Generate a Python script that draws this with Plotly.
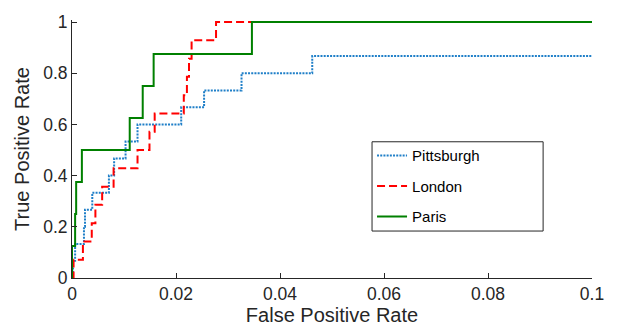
import plotly.graph_objects as go

# Pittsburgh ROC (step corners)
pit_fpr = [0, 0.0002, 0.0006, 0.0023, 0.0025, 0.0039, 0.0071, 0.0081, 0.0103, 0.0126, 0.0210, 0.0254, 0.0326, 0.0462, 0.1]
pit_tpr = [0, 0.067, 0.133, 0.2, 0.267, 0.333, 0.4, 0.467, 0.533, 0.6, 0.667, 0.733, 0.8, 0.867, 0.867]

# London ROC
lon_fpr = [0, 0.0003, 0.0021, 0.0038, 0.0045, 0.0058, 0.0080, 0.0126, 0.0149, 0.0159, 0.0215, 0.0221, 0.0225, 0.0230, 0.0277, 0.1]
lon_tpr = [0, 0.071, 0.143, 0.214, 0.286, 0.357, 0.429, 0.5, 0.571, 0.643, 0.714, 0.786, 0.857, 0.929, 1.0, 1.0]

# Paris ROC
par_fpr = [0, 0, 0.0006, 0.0008, 0.0019, 0.0111, 0.0136, 0.0157, 0.0346, 0.1]
par_tpr = [0, 0.125, 0.25, 0.375, 0.5, 0.625, 0.75, 0.875, 1.0, 1.0]

x_ticks = [0, 0.02, 0.04, 0.06, 0.08, 0.1]
x_labels = ["0", "0.02", "0.04", "0.06", "0.08", "0.1"]
y_ticks = [0, 0.2, 0.4, 0.6, 0.8, 1]
y_labels = ["0", "0.2", "0.4", "0.6", "0.8", "1"]

FONT = "Liberation Sans, Arial, Helvetica, sans-serif"
INK = "#262626"

fig = go.Figure()
fig.add_trace(go.Scatter(x=pit_fpr, y=pit_tpr, mode="lines", name="Pittsburgh", legendgroup="a",
                         line=dict(color="#1f7fc8", width=2, dash="2px,1.2px", shape="hv")))
fig.add_trace(go.Scatter(x=lon_fpr, y=lon_tpr, mode="lines", name="London", legendgroup="b",
                         line=dict(color="#ff0000", width=2, dash="8px,4px", shape="hv")))
fig.add_trace(go.Scatter(x=par_fpr, y=par_tpr, mode="lines", name="Paris", legendgroup="c",
                         line=dict(color="#008000", width=2, shape="hv")))

# legend frame (MATLAB-style box)
fig.add_shape(type="rect", xref="paper", yref="paper", x0=0.577, x1=0.906, y0=0.182, y1=0.528,
              line=dict(color=INK, width=1), fillcolor="white", layer="above")

fig.update_layout(
    width=618, height=332,
    margin=dict(l=72, r=26, t=12, b=51),
    paper_bgcolor="white", plot_bgcolor="white",
    font=dict(family=FONT, color=INK, size=17.5),
    showlegend=True,
    legend=dict(x=0.577, y=0.538, xanchor="left", yanchor="top",
                borderwidth=0, bgcolor="rgba(0,0,0,0)",
                font=dict(size=15, color="#000000"), tracegroupgap=8),
)
fig.update_xaxes(range=[0, 0.1], tickvals=x_ticks, ticktext=x_labels,
                 ticks="inside", ticklen=5, tickcolor=INK, showline=True, linecolor=INK, linewidth=1,
                 showgrid=False, zeroline=False, mirror=False,
                 title=dict(text="False Positive Rate", font=dict(size=20), standoff=2))
fig.update_yaxes(range=[0, 1.008], tickvals=y_ticks, ticktext=y_labels,
                 ticks="inside", ticklen=5, tickcolor=INK, showline=True, linecolor=INK, linewidth=1,
                 showgrid=False, zeroline=False, mirror=False,
                 title=dict(text="True Positive Rate", font=dict(size=20), standoff=8))

fig.write_html("out.html")
